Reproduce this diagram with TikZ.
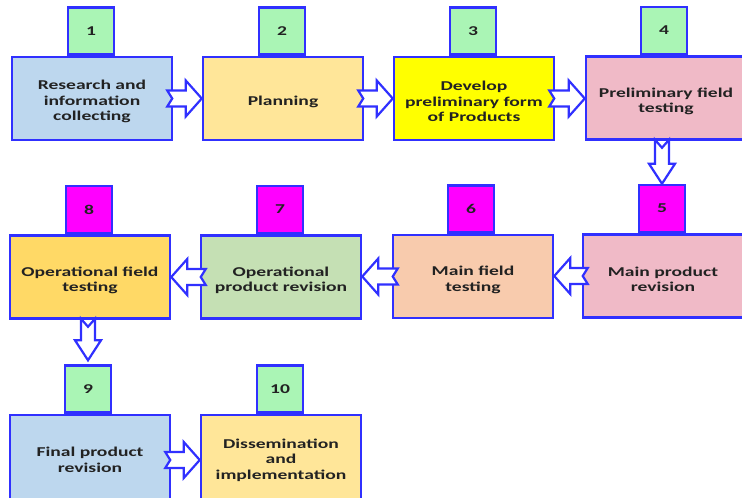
\documentclass[tikz,border=0pt]{standalone}
\usepackage{fontspec}
\setmainfont[FakeStretch=1.45]{Carlito}
\usetikzlibrary{calc}
\definecolor{bordc}{HTML}{3030FF}
\definecolor{txtc}{HTML}{222222}
\definecolor{tabg}{HTML}{AAF5B5}
\definecolor{tabm}{HTML}{FF00FF}
\definecolor{cblue}{HTML}{BDD7EE}
\definecolor{cbeige}{HTML}{FFE699}
\definecolor{cyel}{HTML}{FFFF00}
\definecolor{cpink}{HTML}{F0BAC7}
\definecolor{cpeach}{HTML}{F8CBAD}
\definecolor{cgreen}{HTML}{C5E0B4}
\definecolor{corange}{HTML}{FFD966}
\newcommand\lowstrut{\rule{0pt}{16pt}}
\tikzset{
  stepbox/.style={draw=bordc, line width=2.5pt, minimum width=160pt, minimum height=83pt,
    inner sep=0pt, align=center, font=\fontsize{13.5}{15.5}\selectfont\bfseries, text=txtc},
  numtab/.style={draw=bordc, line width=2.5pt, minimum width=46pt, minimum height=47pt,
    inner sep=0pt, anchor=south, font=\fontsize{13.5}{15}\selectfont\bfseries, text=txtc},
  blockarr/.style={draw=bordc, fill=white, line width=2.2pt, line join=miter}
}
\newcommand\rarrow[2]{\draw[blockarr] let \p1=(#1), \p2=(#2) in
  (\x1-6pt,\y1+8pt) -- (\x2-16pt,\y1+8pt) -- (\x2-16pt,\y1+18pt) -- (\x2,\y1)
  -- (\x2-16pt,\y1-18pt) -- (\x2-16pt,\y1-8pt) -- (\x1-6pt,\y1-8pt) -- (\x1-1pt,\y1) -- cycle;}
\newcommand\larrow[2]{\draw[blockarr] let \p1=(#1), \p2=(#2) in
  (\x1+6pt,\y1+8pt) -- (\x2+16pt,\y1+8pt) -- (\x2+16pt,\y1+18pt) -- (\x2,\y1)
  -- (\x2+16pt,\y1-18pt) -- (\x2+16pt,\y1-8pt) -- (\x1+6pt,\y1-8pt) -- (\x1+1pt,\y1) -- cycle;}
\newcommand\darrow[2]{\draw[blockarr] let \p1=(#1), \p2=(#2) in
  (\x2-7pt,\y1+1pt) -- (\x2-7pt,\y2+20pt) -- (\x2-13pt,\y2+20pt) -- (\x2,\y2)
  -- (\x2+13pt,\y2+20pt) -- (\x2+7pt,\y2+20pt) -- (\x2+7pt,\y1+1pt) -- (\x2,\y1-7pt) -- cycle;}
\begin{document}
\begin{tikzpicture}[x=1pt,y=-1pt]
\useasboundingbox[fill=white] (0,0) rectangle (742,498);
% row 1
\node[stepbox, fill=cblue] (b1) at (92,98.5) {\lowstrut Research and\\information\\collecting};
\node[stepbox, fill=cbeige] (b2) at (283,98.5) {\lowstrut Planning};
\node[stepbox, fill=cyel] (b3) at (474,98.5) {\lowstrut Develop\\preliminary form\\of Products};
\node[stepbox, fill=cpink] (b4) at (666,98) {\lowstrut Preliminary field\\testing};
% row 2
\node[stepbox, fill=cpink] (b5) at (663,276) {\lowstrut Main product\\revision};
\node[stepbox, fill=cpeach] (b6) at (473,276.5) {\lowstrut Main field\\testing};
\node[stepbox, fill=cgreen] (b7) at (281,277) {\lowstrut Operational\\product revision};
\node[stepbox, fill=corange] (b8) at (90,277) {\lowstrut Operational field\\testing};
% row 3 (cut off at the bottom edge)
\node[stepbox, minimum height=90pt, fill=cblue] (b9) at (90,460) {Final product\\revision};
\node[stepbox, minimum height=90pt, fill=cbeige] (b10) at (281,460) {Dissemination\\and\\implementation};
% tabs
\node[numtab, fill=tabg] (t1) at ($(b1.north)+(-1,0)$) {1};
\node[numtab, fill=tabg] (t2) at ($(b2.north)+(-1,0)$) {2};
\node[numtab, fill=tabg] (t3) at ($(b3.north)+(-1,0)$) {3};
\node[numtab, fill=tabg] (t4) at ($(b4.north)+(-2,0)$) {4};
\node[numtab, fill=tabm] (t5) at ($(b5.north)+(-1,0)$) {5};
\node[numtab, fill=tabm] (t6) at ($(b6.north)+(-2,0)$) {6};
\node[numtab, fill=tabm] (t7) at ($(b7.north)+(-1,0)$) {7};
\node[numtab, fill=tabm] (t8) at ($(b8.north)+(-1,0)$) {8};
\node[numtab, fill=tabg] (t9) at ($(b9.north)+(-2,0)$) {9};
\node[numtab, fill=tabg] (t10) at ($(b10.north)+(-1,0)$) {10};
% arrows
\rarrow{b1.east}{b2.west}
\rarrow{b2.east}{b3.west}
\rarrow{b3.east}{b4.west}
\darrow{b4.south}{t5.north}
\larrow{b5.west}{b6.east}
\larrow{b6.west}{b7.east}
\larrow{b7.west}{b8.east}
\coordinate (a9) at ($(t9.north)+(0,-4)$);
\darrow{b8.south}{a9}
\rarrow{b9.east}{b10.west}
\end{tikzpicture}
\end{document}
